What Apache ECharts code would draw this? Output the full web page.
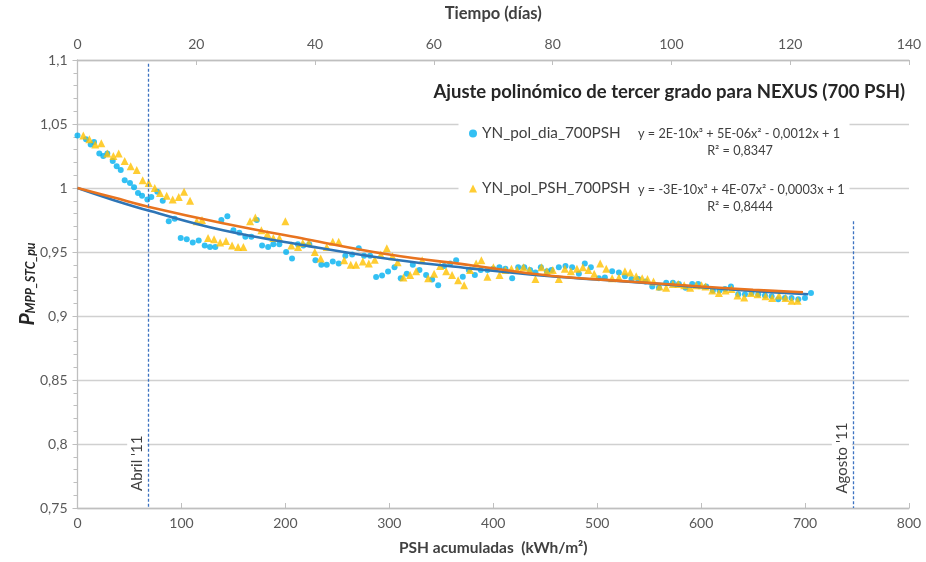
<!DOCTYPE html>
<html><head><meta charset="utf-8">
<script src="https://cdn.jsdelivr.net/npm/echarts@6/dist/echarts.min.js"></script>
<style>html,body{margin:0;padding:0;background:#fff}#c{width:926px;height:562px}</style>
</head><body><div id="c"></div>
<script>
// ---- data ----
const diaPSH = [0,8.2,12.7,15.9,21,24.8,28.7,33.9,37.7,41.6,45.4,50.5,54.4,58.2,62.1,67.2,71,76.8,82,87.8,93.5,99.3,105.1,110.9,116.6,122.4,127.5,132.6,138.4,144.2,150,155.7,161.5,167.3,172.5,177.6,183.4,188.4,194.2,200.7,206.4,212,217.3,223,228.9,234.6,239.8,245.6,251.3,257.7,264.2,270.6,275.7,281.5,287.3,293,298.8,305,311,316.8,322.6,329,335.4,341.2,347,352.8,358.5,364.3,370.7,376.5,382.3,388,394.4,400,405.9,411.7,418.2,424,429.8,435.5,440.6,445.8,451.6,456,463.1,469.5,475.9,482.4,488.1,493.9,501.6,507.4,514.4,520.9,526.7,533,539.5,546.5,553,559.4,566.4,572.8,578.6,585,591.4,597.2,604.9,611.3,617.7,623,628.7,635.7,642.2,648.5,655,661.4,667.8,674.2,680.6,687,693.5,699.9,705.7];
const diaVal = [1.041,1.038,1.034,1.036,1.027,1.025,1.027,1.021,1.017,1.014,1.006,1.004,1.0005,0.996,0.994,0.991,0.993,0.997,0.990,0.974,0.976,0.961,0.960,0.9575,0.959,0.955,0.954,0.954,0.975,0.978,0.967,0.965,0.962,0.962,0.975,0.955,0.954,0.956,0.956,0.950,0.945,0.956,0.955,0.956,0.9435,0.940,0.940,0.9425,0.941,0.947,0.948,0.953,0.947,0.947,0.9305,0.9316,0.9347,0.938,0.9295,0.933,0.940,0.936,0.932,0.9285,0.924,0.939,0.941,0.9435,0.9306,0.936,0.932,0.936,0.936,0.937,0.938,0.937,0.9295,0.938,0.938,0.936,0.934,0.938,0.935,0.936,0.938,0.939,0.938,0.933,0.941,0.938,0.9295,0.930,0.935,0.934,0.931,0.929,0.929,0.927,0.923,0.922,0.926,0.926,0.925,0.922,0.925,0.925,0.923,0.920,0.920,0.921,0.923,0.917,0.917,0.918,0.917,0.916,0.9155,0.913,0.914,0.914,0.913,0.914,0.918];

const pshPSH = [5.6,11.4,17.1,22.9,28.7,34.5,39.6,45.4,51.2,57,62.7,68.5,74.3,79.4,85.8,91.6,97.4,102.5,108.3,114.7,119.8,125.6,131.4,137.2,142.9,148.7,154.5,159.6,166,171.1,176.9,182.7,188.4,194.2,200,205.8,212.2,216.7,222.5,228.3,234,239.8,245.6,251.3,256.6,262.9,268,274.5,280.3,286,291.8,297.6,303,308,313.6,320,325.8,331.6,337.4,343.1,348.9,354.7,360.4,366.2,372,377.7,383.5,388.6,394.4,400.2,406,411.7,417.5,423,429.1,434.8,440.6,446.4,451.6,457.3,463.1,468.9,474.7,480.5,486.2,491.5,497.1,502.9,508.7,514.4,520.9,526.7,531.8,537.5,543.3,548.4,554.2,560,566.4,572.8,578,583.7,589.5,595.3,600.4,604.2,610.7,617.1,623.5,629.2,635,641.5,648,654.3,662,668.4,674.9,681.2,687,692.8];
const pshVal = [1.041,1.038,1.034,1.035,1.027,1.025,1.027,1.021,1.017,1.014,1.006,1.004,1.000,0.996,0.994,0.991,0.993,0.997,0.990,0.974,0.975,0.961,0.960,0.9575,0.9585,0.955,0.954,0.954,0.974,0.977,0.967,0.964,0.961,0.961,0.974,0.955,0.954,0.957,0.957,0.950,0.945,0.954,0.958,0.958,0.9435,0.940,0.940,0.9425,0.941,0.944,0.948,0.953,0.9466,0.942,0.930,0.932,0.935,0.9435,0.9295,0.933,0.939,0.935,0.932,0.928,0.924,0.936,0.941,0.9435,0.9306,0.938,0.932,0.936,0.937,0.936,0.938,0.936,0.929,0.938,0.935,0.936,0.929,0.937,0.935,0.937,0.938,0.936,0.933,0.941,0.937,0.9295,0.930,0.935,0.934,0.931,0.9295,0.929,0.927,0.923,0.922,0.925,0.925,0.924,0.922,0.924,0.924,0.923,0.920,0.918,0.920,0.921,0.916,0.9145,0.918,0.917,0.9155,0.914,0.916,0.914,0.912,0.912];

const fitDiaX = [0,35,70,140,220,300,380,455,530,600,650,703];
const fitDiaY = [1.0,0.9905,0.982,0.967,0.955,0.9445,0.937,0.931,0.9268,0.9225,0.9195,0.917];
const fitPshX = [0,35,70,140,220,300,380,455,530,600,650,698];
const fitPshY = [1.0,0.9925,0.985,0.9725,0.960,0.948,0.9395,0.9315,0.927,0.923,0.9205,0.9185];

const seriesNames = ['YN_pol_dia_700PSH','YN_pol_PSH_700PSH'];
const equations = ['y = 2E-10x³ + 5E-06x² - 0,0012x + 1','y = -3E-10x³ + 4E-07x² - 0,0003x + 1'];
const r2Labels = ['R² = 0,8347','R² = 0,8444'];
const markers = [{x:68,label:"Abril '11",top:1.097,labelAt:0.785},{x:746,label:"Agosto '11",top:0.974,labelAt:0.789}];
const title = 'Ajuste polinómico de tercer grado para NEXUS (700 PSH)';

const FONT = 'Lato';
const zip = (a,b)=>a.map((v,i)=>[v,b[i]]);
const chart = echarts.init(document.getElementById('c'));
const fmtY = v => String(+v.toFixed(2)).replace('.', ',');
const axisLine = {show:true, lineStyle:{color:'#BFBFBF', width:1.3}};
const lblStyle = {color:'#595959', fontFamily:FONT, fontSize:14};

chart.setOption({
  animation:false,
  textStyle:{fontFamily:FONT},
  grid:{left:77.5, right:17, top:58, bottom:54},
  xAxis:[
    {type:'value', position:'bottom', min:0, max:800, interval:100,
     name:'PSH acumuladas  (kWh/m²)', nameLocation:'middle', nameGap:32,
     nameTextStyle:{fontWeight:'bold', fontSize:15.5, color:'#404040', fontFamily:FONT},
     axisLine, axisTick:{show:true, inside:true, length:5, lineStyle:{color:'#BFBFBF'}},
     axisLabel:{...lblStyle, margin:8}, splitLine:{show:false}},
    {type:'value', position:'top', min:0, max:140, interval:20,
     name:'Tiempo (días)', nameLocation:'middle', nameGap:38,
     nameTextStyle:{fontWeight:'bold', fontSize:16.5, color:'#404040', fontFamily:FONT},
     axisLine, axisTick:{show:true, inside:true, length:5, lineStyle:{color:'#BFBFBF'}},
     axisLabel:{...lblStyle, margin:9}, splitLine:{show:false}}
  ],
  yAxis:{type:'value', min:0.75, max:1.1, interval:0.05,
    name:'{p|P}{s|MPP_STC_pu}', nameLocation:'middle', nameGap:40, nameRotate:90, nameMoveOverlap:false,
    nameTextStyle:{rich:{
      p:{fontSize:21, fontWeight:'bold', fontStyle:'italic', color:'#262626', fontFamily:FONT, lineHeight:26, verticalAlign:'bottom'},
      s:{fontSize:12.5, fontWeight:'bold', fontStyle:'italic', color:'#262626', fontFamily:FONT, lineHeight:26, verticalAlign:'bottom', padding:[9,0,0,0]}}},
    axisLine, axisTick:{show:true, length:5, lineStyle:{color:'#BFBFBF'}},
    minorTick:{show:true, splitNumber:5, length:4, lineStyle:{color:'#BFBFBF'}},
    axisLabel:{...lblStyle, margin:10, formatter:fmtY},
    splitLine:{show:true, lineStyle:{color:'#D0D0D0', width:1.3}}},
  legend:{orient:'vertical', left:464, top:121, itemGap:40, itemWidth:8, itemHeight:8, itemStyle:{borderWidth:0},
    data:[{name:seriesNames[0], icon:'circle'},{name:seriesNames[1], icon:'triangle'}],
    textStyle:{fontFamily:FONT, fontSize:15.3, color:'#404040', padding:[0,0,0,0]}, z:10},
  series:[
    {name:seriesNames[0], type:'scatter', data:zip(diaPSH,diaVal), symbol:'circle', symbolSize:6,
     itemStyle:{color:'#00B0F0'}, z:2,
     markLine:{silent:true, symbol:'none', label:{show:false},
       lineStyle:{color:'#3D73C2', type:[3,2], width:1.3},
       data: markers.map(m=>[{coord:[m.x,m.top]},{coord:[m.x,0.75]}])}},
    {name:seriesNames[1], type:'scatter', data:zip(pshPSH,pshVal), symbol:'triangle', symbolSize:8,
     itemStyle:{color:'#FFC000'}, z:2},
    {name:'fit_dia', type:'line', data:zip(fitDiaX,fitDiaY), smooth:0.4, showSymbol:false,
     lineStyle:{color:'#2E75B6', width:2.6}, z:3},
    {name:'fit_psh', type:'line', data:zip(fitPshX,fitPshY), smooth:0.4, showSymbol:false,
     lineStyle:{color:'#E8731F', width:2.6}, z:4}
  ]
});

// annotations positioned through the axes' scales
const P = (x,y)=>chart.convertToPixel({xAxisIndex:0, yAxisIndex:0},[x,y]);
const gfx = [];
const boxL = P(0,1.1)[0] + 381, boxR = P(0,1.1)[0] + 772;
gfx.push({type:'rect', z:5, shape:{x:boxL, y:P(0,1.06)[1], width:boxR-boxL, height:P(0,0.985)[1]-P(0,1.06)[1]}, style:{fill:'#fff'}});
gfx.push({type:'text', z:12, x:905, y:92, style:{text:title, align:'right', verticalAlign:'middle', font:'bold 18.5px '+FONT, fill:'#262626'}});
const eqY = [P(0,1.042)[1], P(0,0.9985)[1]];
equations.forEach((e,i)=>{
  gfx.push({type:'text', z:12, x:638, y:eqY[i], style:{text:e, align:'left', verticalAlign:'middle', font:'12.7px '+FONT, fill:'#404040'}});
  gfx.push({type:'text', z:12, x:740, y:eqY[i]+17, style:{text:r2Labels[i], align:'center', verticalAlign:'middle', font:'12.7px '+FONT, fill:'#404040'}});
});
markers.forEach(m=>{
  const p = P(m.x, m.labelAt);
  gfx.push({type:'text', z:12, x:p[0]-11, y:p[1], rotation:Math.PI/2,
    style:{text:m.label, align:'center', verticalAlign:'middle', font:'15px '+FONT, fill:'#404040', backgroundColor:'#fff', padding:[5,4,0,4]}});
});
chart.setOption({graphic:gfx});
</script>
</body></html>
